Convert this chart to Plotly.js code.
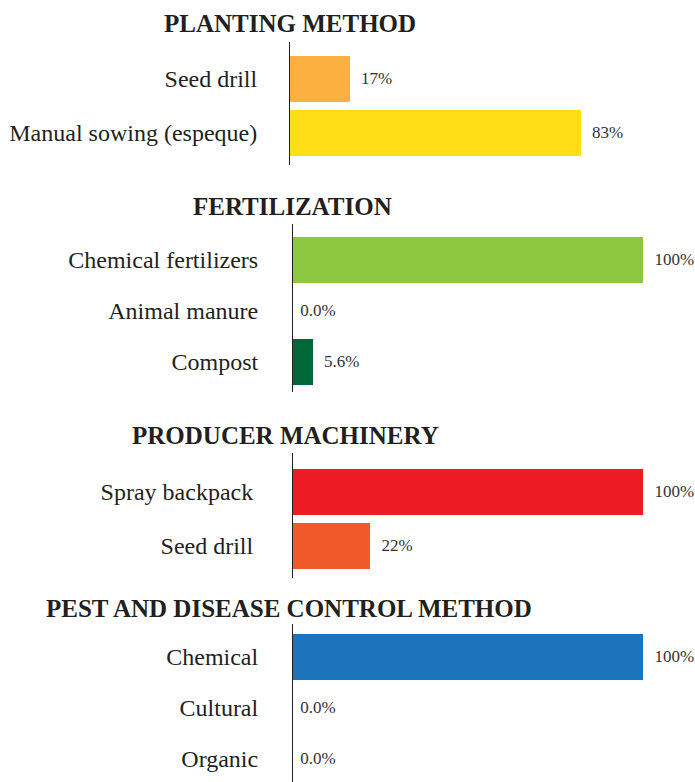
<!DOCTYPE html>
<html>
<head>
<meta charset="utf-8">
<script src="https://cdn.plot.ly/plotly-3.0.1.min.js"></script>
<style>html,body{margin:0;padding:0;background:#fff;}#chart{width:695px;height:782px;}</style>
</head>
<body>
<div id="chart"></div>
<script>
// ---- data ----
const panelTitles = ["PLANTING METHOD", "FERTILIZATION", "PRODUCER MACHINERY", "PEST AND DISEASE CONTROL METHOD"];

const plantingCats = ["Seed drill", "Manual sowing (espeque)"];
const plantingVals = [17, 83];
const plantingLabels = ["17%", "83%"];
const plantingColors = ["#FBB040", "#FFDE17"];

const fertCats = ["Chemical fertilizers", "Animal manure", "Compost"];
const fertVals = [100, 0, 5.6];
const fertLabels = ["100%", "0.0%", "5.6%"];
const fertColors = ["#8DC63F", "#8DC63F", "#006838"];

const machCats = ["Spray backpack", "Seed drill"];
const machVals = [100, 22];
const machLabels = ["100%", "22%"];
const machColors = ["#ED1C24", "#F15A29"];

const pestCats = ["Chemical", "Cultural", "Organic"];
const pestVals = [100, 0, 0];
const pestLabels = ["100%", "0.0%", "0.0%"];
const pestColors = ["#1C75BC", "#1C75BC", "#1C75BC"];

// ---- build ----
const W = 695, H = 782;
const FONT = "Liberation Serif";
const INK = "#231f20";
const pad = (s, n) => "\u00a0".repeat(n) + s;

const panels = [
  {cats: plantingCats, vals: plantingVals, labels: plantingLabels, colors: plantingColors,
   xdom: [290, 640], ydom: [41.7, 165], range: [1.596, -0.687], width: 0.846, standoff: 27,
   title: {x: 290, y: 23.5}},
  {cats: fertCats, vals: fertVals, labels: fertLabels, colors: fertColors,
   xdom: [293, 643], ydom: [224.3, 392], range: [2.592, -0.694], width: 0.9, standoff: 29,
   title: {x: 292, y: 206.7}},
  {cats: machCats, vals: machVals, labels: machLabels, colors: machColors,
   xdom: [293, 643], ydom: [453.3, 578.3], range: [1.602, -0.713], width: 0.846, standoff: 34,
   title: {x: 285, y: 435}},
  {cats: pestCats, vals: pestVals, labels: pestLabels, colors: pestColors,
   xdom: [293, 643], ydom: [624.3, 782], range: [2.455, -0.637], width: 0.896, standoff: 29,
   title: {x: 289, y: 608.3}}
];

const data = [];
const layout = {
  width: W, height: H, autosize: false,
  margin: {l: 0, r: 0, t: 0, b: 0, pad: 0},
  paper_bgcolor: "#fff", plot_bgcolor: "rgba(0,0,0,0)",
  showlegend: false, bargap: 0,
  font: {family: FONT, color: INK},
  annotations: []
};

panels.forEach((p, i) => {
  const n = i === 0 ? "" : String(i + 1);
  data.push({
    type: "bar", orientation: "h",
    x: p.vals, y: p.cats,
    xaxis: "x" + n, yaxis: "y" + n,
    width: p.vals.map(() => p.width),
    marker: {color: p.colors, line: {width: 0}},
    text: p.labels.map((t, k) => pad(t, p.vals[k] === 0 ? 1 : 2)),
    textposition: "outside",
    textfont: {family: FONT, size: 17, color: "#333333"},
    outsidetextfont: {family: FONT, size: 17, color: "#333333"},
    constraintext: "none",
    cliponaxis: false,
    hoverinfo: "skip"
  });
  layout["xaxis" + n] = {
    domain: [p.xdom[0] / W, p.xdom[1] / W],
    range: [0, 100], anchor: "y" + n,
    visible: false, showgrid: false, zeroline: false, fixedrange: true
  };
  layout["yaxis" + n] = {
    domain: [1 - p.ydom[1] / H, 1 - p.ydom[0] / H],
    anchor: "x" + n, type: "category",
    range: p.range, autorange: false,
    showline: true, linecolor: INK, linewidth: 1,
    showgrid: false, zeroline: false, ticks: "",
    ticklabelstandoff: p.standoff,
    tickfont: {family: FONT, size: 24, color: INK},
    fixedrange: true
  };
  layout.annotations.push({
    xref: "paper", yref: "paper",
    x: p.title.x / W, y: 1 - p.title.y / H,
    xanchor: "center", yanchor: "middle",
    text: panelTitles[i],
    showarrow: false,
    font: {family: FONT, size: 25, color: INK, weight: "bold"}
  });
});

Plotly.newPlot("chart", data, layout, {staticPlot: true, displayModeBar: false});
</script>
</body>
</html>
